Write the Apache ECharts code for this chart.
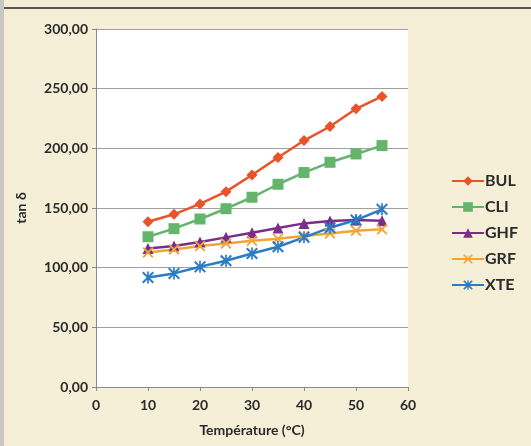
<!DOCTYPE html>
<html>
<head>
<meta charset="utf-8">
<script src="https://cdn.jsdelivr.net/npm/echarts@6/dist/echarts.min.js"></script>
<style>
  html, body { margin: 0; padding: 0; background: #f6efd7; }
  #chart { width: 531px; height: 446px; }
</style>
</head>
<body>
<div id="chart"></div>
<script>
const temps = [10, 15, 20, 25, 30, 35, 40, 45, 50, 55]
const bul = [138.5, 144.7, 153.4, 163.7, 177.7, 192.3, 206.5, 218.3, 233.1, 243.5]
const cli = [125.9, 132.7, 140.8, 149.4, 159.0, 169.9, 179.7, 188.3, 195.3, 202.3]
const ghf = [116.1, 118.1, 121.5, 125.4, 129.3, 133.2, 137.1, 139.1, 139.9, 139.4]
const grf = [112.8, 115.3, 118.1, 120.3, 122.6, 124.2, 126.5, 128.7, 131.0, 132.1]
const xte = [91.8, 95.2, 100.7, 105.8, 111.9, 117.5, 125.4, 133.5, 139.9, 148.9]

const crossPath = 'path://M0,1.2 L1.2,0 L5,3.8 L8.8,0 L10,1.2 L6.2,5 L10,8.8 L8.8,10 L5,6.2 L1.2,10 L0,8.8 L3.8,5 Z'
const starPath = 'path://M0,1.2 L1.2,0 L5,3.8 L8.8,0 L10,1.2 L6.2,5 L10,8.8 L8.8,10 L5,6.2 L1.2,10 L0,8.8 L3.8,5 Z M4.3,0 L5.7,0 L5.7,10 L4.3,10 Z'

const font = 'Lato'
const txt = '#2a2a2a'

function pairs(ys) {
  return temps.map((t, i) => [t, ys[i]])
}

function line(name, ys, color, symbol, size) {
  return {
    name: name,
    type: 'line',
    data: pairs(ys),
    symbol: symbol,
    symbolSize: size,
    lineStyle: { color: color, width: 2.5 },
    itemStyle: { color: color },
    animation: false
  }
}

const chart = echarts.init(document.getElementById('chart'))
chart.setOption({
  backgroundColor: '#f6efd7',
  textStyle: { fontFamily: font },
  graphic: [
    { type: 'rect', shape: { x: 0, y: 0, width: 4, height: 446 }, style: { fill: '#c9c7c2' } },
    { type: 'rect', shape: { x: 4, y: 7, width: 527, height: 2 }, style: { fill: '#555' } }
  ],
  grid: { left: 96, right: 123, top: 29, bottom: 59, backgroundColor: '#fff', show: true, borderWidth: 0 },
  legend: {
    orient: 'vertical',
    left: 446,
    top: 168,
    itemWidth: 32,
    itemHeight: 12,
    itemGap: 10,
    textStyle: { fontFamily: font, fontSize: 16, fontWeight: 'bold', color: txt, padding: [0, 0, 0, -4] },
    data: ['BUL', 'CLI', 'GHF', 'GRF', 'XTE']
  },
  xAxis: {
    type: 'value',
    min: 0,
    max: 60,
    interval: 10,
    name: 'Température (°C)',
    nameLocation: 'middle',
    nameGap: 36,
    nameTextStyle: { fontFamily: font, fontSize: 14, fontWeight: 'bold', color: txt },
    axisLine: { lineStyle: { color: '#8a8a8a', width: 1 } },
    axisTick: { show: true, length: 4, lineStyle: { color: '#8a8a8a' } },
    axisLabel: { fontFamily: font, fontSize: 14, fontWeight: 'bold', color: txt, margin: 11 },
    splitLine: { show: false }
  },
  yAxis: {
    type: 'value',
    min: 0,
    max: 300,
    interval: 50,
    name: 'tan δ',
    nameLocation: 'middle',
    nameGap: 68,
    nameRotate: 90,
    nameTextStyle: { fontFamily: font, fontSize: 14, fontWeight: 'bold', color: txt },
    axisLine: { show: true, lineStyle: { color: '#8a8a8a', width: 1 } },
    axisTick: { show: true, length: 4, lineStyle: { color: '#8a8a8a' } },
    axisLabel: {
      fontFamily: font, fontSize: 14, fontWeight: 'bold', color: txt, margin: 8,
      formatter: v => v.toFixed(2).replace('.', ',')
    },
    splitLine: { lineStyle: { color: '#a0a0a0', width: 1 } }
  },
  series: [
    line('BUL', bul, '#e8532a', 'diamond', 11),
    line('CLI', cli, '#63b56b', 'rect', 11),
    line('GHF', ghf, '#7a2e8a', 'triangle', 11),
    line('GRF', grf, '#f0a535', crossPath, 11),
    line('XTE', xte, '#2a7cc6', starPath, 12)
  ]
})
</script>
</body>
</html>
